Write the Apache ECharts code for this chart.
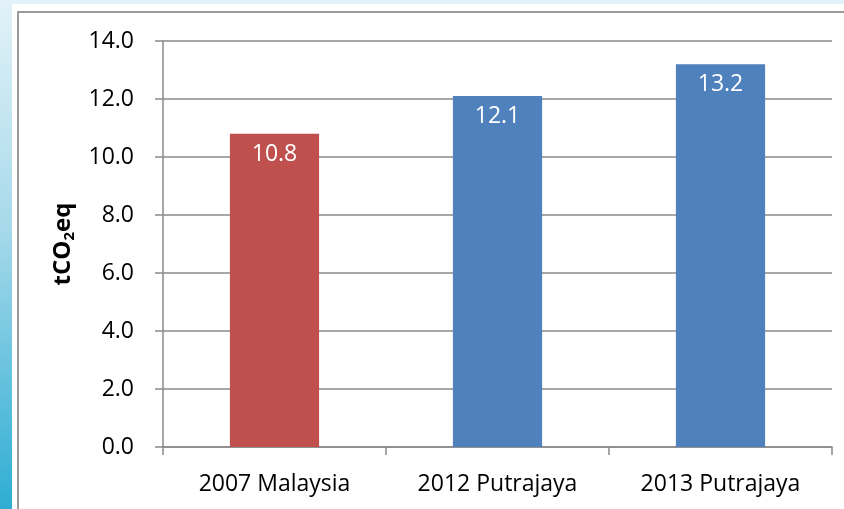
<!DOCTYPE html>
<html>
<head>
<meta charset="utf-8">
<script src="https://cdn.jsdelivr.net/npm/echarts@6/dist/echarts.min.js"></script>
<style>
  html, body { margin: 0; padding: 0; background: #fff; }
  #chart { width: 844px; height: 509px; }
</style>
</head>
<body>
<div id="chart"></div>
<script>
// chart data
const categories = ['2007 Malaysia', '2012 Putrajaya', '2013 Putrajaya']
const values = [10.8, 12.1, 13.2]
const barColors = ['#C0504D', '#4F81BD', '#4F81BD']
const yTicks = [0, 2, 4, 6, 8, 10, 12, 14]

const font = '"Open Sans", sans-serif'
const gray = '#8a8a8a'

let chart = echarts.init(document.getElementById('chart'))

chart.setOption({
  animation: false,
  textStyle: { fontFamily: font },
  graphic: [
    {
      type: 'rect', silent: true, z: -10,
      shape: { x: 0, y: 0, width: 844, height: 509 },
      style: {
        fill: new echarts.graphic.LinearGradient(0, 0, 0, 1, [
          { offset: 0, color: '#e2f2f8' },
          { offset: 0.45, color: '#a6d9ea' },
          { offset: 1, color: '#2eadd3' }
        ])
      }
    },
    {
      type: 'rect', silent: true, z: -9,
      shape: { x: 12, y: 4, width: 840, height: 510 },
      style: { fill: '#fff' }
    },
    {
      type: 'rect', silent: true, z: -8,
      shape: { x: 18, y: 12, width: 900, height: 600 },
      style: { fill: 'none', stroke: '#9a9a9a', lineWidth: 2 }
    }
  ],
  grid: { left: 163, right: 12, top: 41, bottom: 62 },
  xAxis: {
    type: 'category',
    data: categories,
    axisLine: { lineStyle: { color: gray, width: 1.5 } },
    axisTick: { show: true, length: 8, interval: 0, lineStyle: { color: gray, width: 1.5 } },
    axisLabel: { color: '#000', fontSize: 23, margin: 26, fontFamily: font }
  },
  yAxis: {
    type: 'value',
    min: yTicks[0],
    max: yTicks[yTicks.length - 1],
    interval: 2,
    name: '{a|tCO}{s|2}{a|eq}',
    nameLocation: 'middle',
    nameGap: 86,
    nameRotate: 90,
    nameTextStyle: {
      rich: {
        a: { fontSize: 24, fontWeight: 'bold', color: '#000', fontFamily: font, lineHeight: 28 },
        s: { fontSize: 15, fontWeight: 'bold', color: '#000', fontFamily: font, verticalAlign: 'bottom', lineHeight: 28, padding: [9, 0, 0, 0] }
      }
    },
    axisLine: { show: true, lineStyle: { color: gray, width: 1.5 } },
    axisTick: { show: true, length: 8, lineStyle: { color: gray, width: 1.5 } },
    axisLabel: {
      color: '#000', fontSize: 23, margin: 29, fontFamily: font,
      formatter: v => v.toFixed(1)
    },
    splitLine: { lineStyle: { color: gray, width: 1.5 } }
  },
  series: [{
    type: 'bar',
    barWidth: '40%',
    data: values.map((v, i) => ({ value: v, itemStyle: { color: barColors[i] } })),
    label: {
      show: true,
      position: 'insideTop',
      distance: 9,
      color: '#fff',
      fontSize: 23,
      fontFamily: font,
      formatter: p => p.value.toFixed(1)
    }
  }]
})
</script>
</body>
</html>
